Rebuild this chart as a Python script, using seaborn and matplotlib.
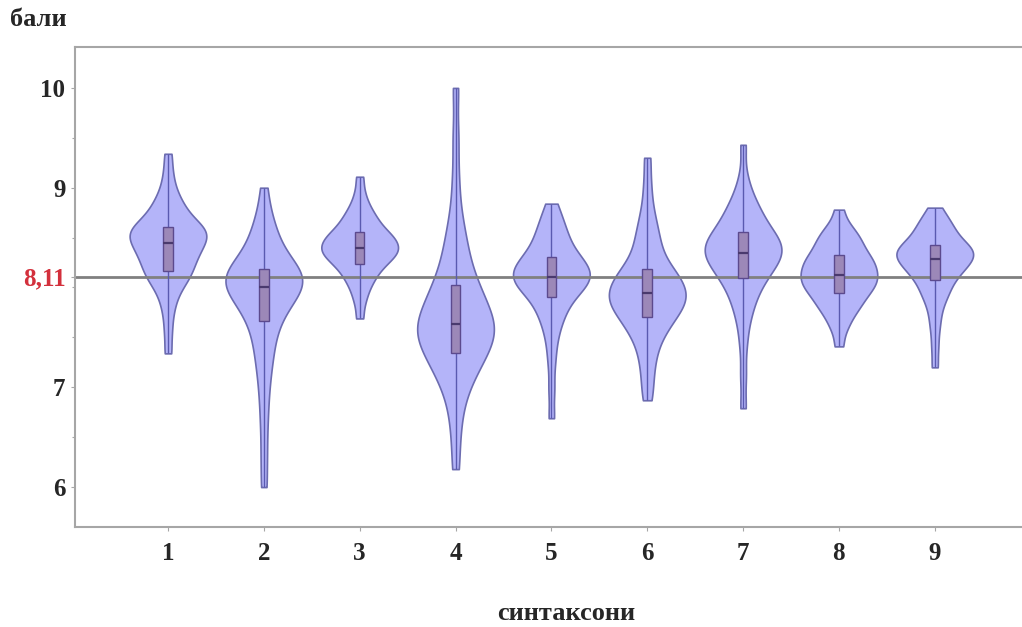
import matplotlib
matplotlib.use("Agg")
import matplotlib.pyplot as plt
import pandas as pd
import seaborn as sns

# Syntaxon labels and scores (бали) per syntaxon
syntaxa = ["1", "2", "3", "4", "5", "6", "7", "8", "9"]

scores_1 = [7.34, 7.56, 7.74, 7.86, 7.95, 8.01, 8.06, 8.10, 8.13, 8.16, 8.17,
            8.22, 8.25, 8.28, 8.31, 8.33, 8.36, 8.38, 8.40, 8.43, 8.45,
            8.47, 8.49, 8.51, 8.53, 8.55, 8.57, 8.58, 8.59, 8.60, 8.61,
            8.65, 8.69, 8.73, 8.77, 8.81, 8.85, 8.92, 9.01, 9.15, 9.34]
scores_2 = [6.00, 6.32, 6.62, 6.86, 7.05, 7.20, 7.31, 7.41, 7.50, 7.58, 7.66,
            7.71, 7.76, 7.80, 7.84, 7.88, 7.91, 7.94, 7.97, 7.99, 8.01,
            8.03, 8.05, 8.07, 8.09, 8.11, 8.13, 8.15, 8.16, 8.18, 8.19,
            8.23, 8.28, 8.33, 8.38, 8.44, 8.50, 8.57, 8.65, 8.77, 9.00]
scores_3 = [7.69, 7.84, 7.93, 8.00, 8.05, 8.09, 8.13, 8.16, 8.19, 8.22, 8.24,
            8.26, 8.28, 8.30, 8.32, 8.33, 8.35, 8.36, 8.37, 8.39, 8.40,
            8.42, 8.43, 8.45, 8.46, 8.48, 8.50, 8.51, 8.53, 8.55, 8.56,
            8.59, 8.62, 8.65, 8.68, 8.71, 8.75, 8.80, 8.86, 8.96, 9.11]
scores_4 = [6.18, 6.50, 6.74, 6.90, 7.02, 7.10, 7.16, 7.21, 7.26, 7.30, 7.34,
            7.38, 7.42, 7.46, 7.49, 7.52, 7.55, 7.57, 7.59, 7.61, 7.63,
            7.66, 7.70, 7.74, 7.78, 7.82, 7.86, 7.91, 7.95, 7.99, 8.03,
            8.10, 8.18, 8.27, 8.36, 8.46, 8.58, 8.76, 9.08, 9.50, 10.00]
scores_5 = [6.69, 6.98, 7.24, 7.42, 7.55, 7.64, 7.71, 7.76, 7.81, 7.86, 7.90,
            7.93, 7.96, 7.99, 8.01, 8.03, 8.05, 8.07, 8.08, 8.10, 8.11,
            8.13, 8.15, 8.17, 8.19, 8.21, 8.23, 8.25, 8.27, 8.29, 8.31,
            8.35, 8.39, 8.43, 8.47, 8.51, 8.56, 8.61, 8.67, 8.74, 8.84]
scores_6 = [6.87, 7.03, 7.18, 7.30, 7.40, 7.48, 7.54, 7.59, 7.63, 7.67, 7.70,
            7.73, 7.76, 7.79, 7.82, 7.84, 7.86, 7.88, 7.90, 7.92, 7.94,
            7.96, 7.98, 8.01, 8.04, 8.06, 8.09, 8.12, 8.14, 8.17, 8.19,
            8.25, 8.31, 8.37, 8.44, 8.51, 8.59, 8.68, 8.82, 9.03, 9.30]
scores_7 = [6.79, 7.12, 7.42, 7.62, 7.74, 7.83, 7.90, 7.96, 8.01, 8.06, 8.10,
            8.13, 8.16, 8.19, 8.22, 8.25, 8.27, 8.29, 8.31, 8.33, 8.35,
            8.37, 8.39, 8.41, 8.43, 8.45, 8.47, 8.49, 8.51, 8.54, 8.56,
            8.60, 8.64, 8.68, 8.72, 8.76, 8.81, 8.87, 8.95, 9.10, 9.43]
scores_8 = [7.41, 7.56, 7.64, 7.70, 7.75, 7.79, 7.82, 7.85, 7.88, 7.91, 7.94,
            7.96, 7.98, 8.00, 8.02, 8.04, 8.06, 8.08, 8.10, 8.11, 8.13,
            8.15, 8.17, 8.19, 8.21, 8.23, 8.25, 8.27, 8.29, 8.31, 8.33,
            8.36, 8.39, 8.42, 8.45, 8.48, 8.51, 8.55, 8.59, 8.65, 8.78]
scores_9 = [7.20, 7.40, 7.57, 7.69, 7.79, 7.87, 7.92, 7.96, 8.00, 8.04, 8.08,
            8.11, 8.14, 8.16, 8.18, 8.20, 8.22, 8.24, 8.26, 8.28, 8.29,
            8.31, 8.32, 8.34, 8.35, 8.36, 8.38, 8.39, 8.40, 8.42, 8.43,
            8.46, 8.49, 8.52, 8.55, 8.58, 8.61, 8.64, 8.68, 8.73, 8.80]

# Overall mean score shown as a reference line
overall_mean = 8.11
overall_label = "8,11"

y_ticks = [6, 7, overall_mean, 9, 10]
y_tick_labels = ["6", "7", overall_label, "9", "10"]

all_scores = [scores_1, scores_2, scores_3, scores_4, scores_5,
              scores_6, scores_7, scores_8, scores_9]
df = pd.concat(
    [pd.DataFrame({"syntaxon": s, "score": v}) for s, v in zip(syntaxa, all_scores)],
    ignore_index=True,
)

VIOLIN_FILL = "#b4b4f9"
VIOLIN_EDGE = "#6c6cb0"
BOX_FILL = "#9c88b8"
BOX_EDGE = "#5c4a8e"
WHISKER = "#5a5ab0"
MEDIAN = "#4a3a6e"
SPINE = "#a6a6a6"
RED = "#d3303c"

sns.set_style("white")
plt.rcParams["font.family"] = ["Liberation Serif", "DejaVu Serif"]

W, H = 1022, 627
fig = plt.figure(figsize=(W / 100, H / 100), dpi=100)
ax = fig.add_axes([75 / W, 1 - 527 / H, (W - 75) / W, (527 - 47) / H])

sns.violinplot(data=df, x="syntaxon", y="score", order=syntaxa, cut=0,
               bw_adjust=0.6, gridsize=300, inner=None, density_norm="width",
               width=0.8, color=VIOLIN_FILL, linecolor=VIOLIN_EDGE,
               linewidth=1.2, saturation=1, ax=ax)
for coll in ax.collections:
    coll.set_zorder(1)

ax.axhline(overall_mean, color="#808080", lw=2, zorder=2)

n_patches = len(ax.patches)
n_lines = len(ax.lines)
sns.boxplot(data=df, x="syntaxon", y="score", order=syntaxa, whis=(0, 100),
            width=0.1, showcaps=False, fliersize=0, color=BOX_FILL,
            linecolor=BOX_EDGE, linewidth=1.0, saturation=1, ax=ax,
            whiskerprops=dict(color=WHISKER, linewidth=1.0),
            medianprops=dict(color=MEDIAN, linewidth=1.6))
for p in ax.patches[n_patches:]:
    p.set_zorder(4)
for ln in ax.lines[n_lines:]:
    ln.set_zorder(3)
    if ln.get_linewidth() > 1.5:
        ln.set_zorder(5)

ax.set_xlim(-0.97, 8.91)
ax.set_ylim(5.6, 10.41)

ax.set_yticks(y_ticks)
ax.set_yticklabels(y_tick_labels)
ax.set_yticks([6.5, 7.5, 8, 8.5, 9.5], minor=True)
ax.tick_params(axis="both", which="major", length=3, width=0.8, color=SPINE,
               labelsize=18, pad=4)
ax.tick_params(axis="y", which="minor", length=2, width=0.8, color=SPINE, left=True)
ax.tick_params(axis="x", which="major", pad=8)
ax.tick_params(left=True, bottom=True)
for lab in ax.get_yticklabels() + ax.get_xticklabels():
    lab.set_fontweight("bold")
ax.get_yticklabels()[2].set_color(RED)

ax.set_xlabel("")
ax.set_ylabel("")
for side in ["left", "top", "bottom"]:
    ax.spines[side].set_color(SPINE)
    ax.spines[side].set_linewidth(1.5)
ax.spines["right"].set_visible(False)

fig.text(10 / W, 1 - 20 / H, "бали", fontsize=19, fontweight="bold",
         ha="left", va="center")
fig.text(566 / W, 1 - 614 / H, "синтаксони", fontsize=19, fontweight="bold",
         ha="center", va="center")

fig.savefig("out.png", dpi=100, facecolor="white")
